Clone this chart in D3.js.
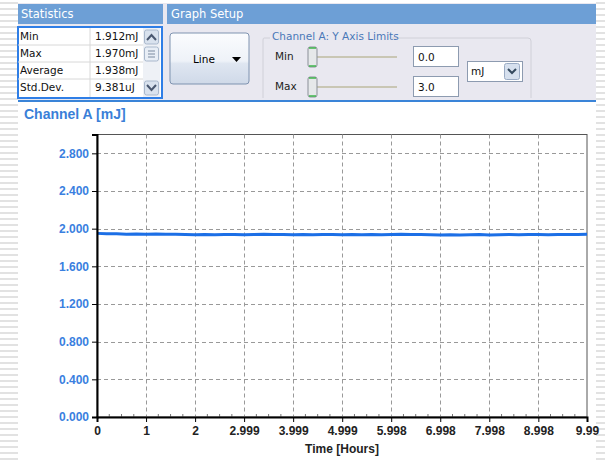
<!DOCTYPE html>
<html>
<head>
<meta charset="utf-8">
<title>Channel A</title>
<script src="https://cdn.jsdelivr.net/npm/d3@7"></script>
<style>
body { margin:0; background:#fff; }
svg text { font-family: "Liberation Sans", Arial, sans-serif; }
.ui { font-family: "DejaVu Sans", Tahoma, sans-serif; font-size:10.5px; }
</style>
</head>
<body>
<svg id="chart" width="605" height="463"></svg>
<script>
// statistics table
var statNames = ["Min", "Max", "Average", "Std.Dev."];
var statValues = ["1.912mJ", "1.970mJ", "1.938mJ", "9.381uJ"];

// axis ticks
var xTicks = [0, 1, 2, 2.999, 3.999, 4.999, 5.998, 6.998, 7.998, 8.998, 9.99];
var xTickLabels = ["0", "1", "2", "2.999", "3.999", "4.999", "5.998", "6.998", "7.998", "8.998", "9.99"];
var yTicks = [0, 0.4, 0.8, 1.2, 1.6, 2.0, 2.4, 2.8];

// series (hours, mJ)
var times = [0, 0.2, 0.4, 0.6, 0.8, 1.0, 1.2, 1.4, 1.6, 1.8, 2.0, 2.2, 2.4, 2.6, 2.8, 3.0, 3.2,
  3.4, 3.6, 3.8, 4.0, 4.2, 4.4, 4.6, 4.8, 5.0, 5.2, 5.4, 5.6, 5.8, 6.0, 6.2, 6.4, 6.6, 6.8,
  7.0, 7.2, 7.4, 7.6, 7.8, 8.0, 8.2, 8.4, 8.6, 8.8, 9.0, 9.2, 9.4, 9.6, 9.8, 9.99];
var energy = [1.950, 1.945, 1.947, 1.942, 1.944, 1.941, 1.943, 1.940, 1.941, 1.938, 1.936, 1.938,
  1.935, 1.937, 1.939, 1.936, 1.938, 1.940, 1.937, 1.939, 1.936, 1.938, 1.935, 1.937, 1.939,
  1.936, 1.938, 1.935, 1.937, 1.936, 1.938, 1.940, 1.937, 1.939, 1.936, 1.934, 1.936, 1.933,
  1.935, 1.937, 1.934, 1.936, 1.938, 1.935, 1.937, 1.939, 1.936, 1.938, 1.937, 1.939, 1.940];

var svg = d3.select("#chart");

// striped page edges
var defs = svg.append("defs");
var pat = defs.append("pattern").attr("id", "stripes").attr("patternUnits", "userSpaceOnUse")
  .attr("width", 10).attr("height", 6);
pat.append("rect").attr("width", 10).attr("height", 6).attr("fill", "#fff");
pat.append("rect").attr("y", 2).attr("width", 10).attr("height", 2).attr("fill", "#e2e2e2");
svg.append("rect").attr("x", 0).attr("y", 0).attr("width", 18).attr("height", 463).attr("fill", "url(#stripes)");
svg.append("rect").attr("x", 596).attr("y", 0).attr("width", 9).attr("height", 463).attr("fill", "url(#stripes)");

var grad = defs.append("linearGradient").attr("id", "btn").attr("x1", 0).attr("y1", 0).attr("x2", 0).attr("y2", 1);
grad.append("stop").attr("offset", "0%").attr("stop-color", "#fbfcfe");
grad.append("stop").attr("offset", "55%").attr("stop-color", "#eef2f8");
grad.append("stop").attr("offset", "60%").attr("stop-color", "#dfe6f1");
grad.append("stop").attr("offset", "100%").attr("stop-color", "#cfd9e8");

// top panel
svg.append("rect").attr("x", 18).attr("y", 3).attr("width", 578).attr("height", 98).attr("fill", "#e9e8f0");
svg.append("rect").attr("x", 18).attr("y", 4).attr("width", 145).attr("height", 20).attr("fill", "#6d9fd6");
svg.append("rect").attr("x", 167).attr("y", 4).attr("width", 429).attr("height", 20).attr("fill", "#6d9fd6");
svg.append("text").attr("class", "ui").attr("x", 21).attr("y", 18).attr("fill", "#fff").style("font-size", "11.5px").text("Statistics");
svg.append("text").attr("class", "ui").attr("x", 171).attr("y", 18).attr("fill", "#fff").style("font-size", "11.5px").text("Graph Setup");

// statistics table
var tbl = svg.append("g");
tbl.append("rect").attr("x", 18).attr("y", 27).attr("width", 144).attr("height", 71)
  .attr("fill", "#fff").attr("stroke", "#2f7ee6").attr("stroke-width", 2);
statNames.forEach(function(n, i) {
  var y0 = 28 + i * 17;
  if (i > 0) tbl.append("line").attr("x1", 18).attr("x2", 143).attr("y1", y0).attr("y2", y0).attr("stroke", "#d8d8d8");
  tbl.append("text").attr("class", "ui").attr("x", 20).attr("y", y0 + 12).attr("fill", "#111").text(n);
  tbl.append("text").attr("class", "ui").attr("x", 95).attr("y", y0 + 12).attr("fill", "#111").text(statValues[i]);
});
tbl.append("line").attr("x1", 90).attr("x2", 90).attr("y1", 28).attr("y2", 97).attr("stroke", "#d8d8d8");
tbl.append("rect").attr("x", 143).attr("y", 28).attr("width", 17).attr("height", 69).attr("fill", "#eef1f6");
[[30, "M147,40 L151.5,35 L156,40"], [81, "M147,85 L151.5,90 L156,85"]].forEach(function(b) {
  tbl.append("rect").attr("x", 144.5).attr("y", b[0]).attr("width", 14).attr("height", 14).attr("rx", 2)
    .attr("fill", "#d9e2ee").attr("stroke", "#a9b8cc");
  tbl.append("path").attr("d", b[1]).attr("fill", "none").attr("stroke", "#4a5870").attr("stroke-width", 2);
});
tbl.append("rect").attr("x", 144.5).attr("y", 47).attr("width", 14).attr("height", 14).attr("rx", 2)
  .attr("fill", "#e8eef6").attr("stroke", "#a9b8cc");
[51, 54, 57].forEach(function(y) {
  tbl.append("line").attr("x1", 148).attr("x2", 155).attr("y1", y).attr("y2", y).attr("stroke", "#7a8aa0");
});

// line button
svg.append("rect").attr("x", 170).attr("y", 33).attr("width", 79).attr("height", 51).attr("rx", 3)
  .attr("fill", "url(#btn)").attr("stroke", "#7f93b0");
svg.append("text").attr("class", "ui").attr("x", 193).attr("y", 63).attr("fill", "#000").text("Line");
svg.append("path").attr("d", "M232,57 L241,57 L236.5,62 Z").attr("fill", "#000");

// axis limits group box
svg.append("path").attr("d", "M270,38 L264,38 Q263,38 263,40 L263,98 M392,38 L528,38 Q531,38 531,41 L531,98")
  .attr("fill", "none").attr("stroke", "#d0d0d8");
svg.append("text").attr("class", "ui").attr("x", 272).attr("y", 40).attr("fill", "#4a78b8").text("Channel A: Y Axis Limits");
[["Min", 47, "0.0"], ["Max", 77, "3.0"]].forEach(function(r) {
  var y0 = r[1];
  svg.append("text").attr("class", "ui").attr("x", 275).attr("y", y0 + 13).attr("fill", "#222").text(r[0]);
  svg.append("line").attr("x1", 312).attr("x2", 397).attr("y1", y0 + 10).attr("y2", y0 + 10).attr("stroke", "#c9c6b4").attr("stroke-width", 2);
  svg.append("rect").attr("x", 308).attr("y", y0).attr("width", 9).attr("height", 20).attr("rx", 2)
    .attr("fill", "#e6e8ea").attr("stroke", "#8a8f98");
  svg.append("line").attr("x1", 309).attr("x2", 316).attr("y1", y0 + 1).attr("y2", y0 + 1).attr("stroke", "#3cb44a").attr("stroke-width", 1.5);
  svg.append("line").attr("x1", 309).attr("x2", 316).attr("y1", y0 + 19).attr("y2", y0 + 19).attr("stroke", "#3cb44a").attr("stroke-width", 1.5);
  svg.append("rect").attr("x", 413.5).attr("y", y0 - 0.5).attr("width", 45).attr("height", 20)
    .attr("fill", "#fff").attr("stroke", "#8d9bb0");
  svg.append("text").attr("class", "ui").attr("x", 418).attr("y", y0 + 14).attr("fill", "#111").text(r[2]);
});
svg.append("rect").attr("x", 467.5).attr("y", 61.5).attr("width", 55).attr("height", 20)
  .attr("fill", "#fff").attr("stroke", "#8d9bb0");
svg.append("text").attr("class", "ui").attr("x", 471).attr("y", 75).attr("fill", "#111").text("mJ");
svg.append("rect").attr("x", 504.5).attr("y", 63.5).attr("width", 15).attr("height", 16).attr("rx", 2)
  .attr("fill", "#d6e0ee").attr("stroke", "#9aabc4");
svg.append("path").attr("d", "M508,69 L512,73 L516,69").attr("fill", "none").attr("stroke", "#34495e").attr("stroke-width", 2);

svg.append("line").attr("x1", 18).attr("x2", 596).attr("y1", 101).attr("y2", 101).attr("stroke", "#3a84d8").attr("stroke-width", 2);

// chart title
svg.append("text").attr("x", 24).attr("y", 119).attr("fill", "#3a7fd8")
  .style("font-size", "14px").style("font-weight", "bold").text("Channel A [mJ]");

// plot
var x = d3.scaleLinear().domain([0, 9.99]).range([97, 587]);
var y = d3.scaleLinear().domain([0, 3]).range([417, 134.5]);

var g = svg.append("g");
g.append("rect").attr("x", x(0)).attr("y", y(3)).attr("width", x(9.99) - x(0)).attr("height", y(0) - y(3))
  .attr("fill", "#fff").attr("stroke", "#555").attr("stroke-width", 1);

g.selectAll(".vgrid").data(xTicks.slice(1, -1)).enter().append("line")
  .attr("x1", function(d) { return Math.round(x(d)) + 0.5; }).attr("x2", function(d) { return Math.round(x(d)) + 0.5; })
  .attr("y1", y(3)).attr("y2", y(0))
  .attr("stroke", "#999").attr("stroke-dasharray", "4,3");
g.selectAll(".hgrid").data(yTicks.slice(1)).enter().append("line")
  .attr("x1", x(0)).attr("x2", x(9.99))
  .attr("y1", function(d) { return Math.round(y(d)) + 0.5; }).attr("y2", function(d) { return Math.round(y(d)) + 0.5; })
  .attr("stroke", "#999").attr("stroke-dasharray", "4,3");

// minor ticks on x axis
var minor = [];
xTicks.slice(0, -1).forEach(function(d, i) {
  var step = (xTicks[i + 1] - d) / 4;
  minor.push(d + step, d + 2 * step, d + 3 * step);
});
g.selectAll(".minor").data(minor).enter().append("line")
  .attr("x1", function(d) { return x(d); }).attr("x2", function(d) { return x(d); })
  .attr("y1", y(0)).attr("y2", y(0) - 3).attr("stroke", "#777");

// series
var line = d3.line().x(function(d, i) { return x(times[i]); }).y(function(d) { return y(d); });
g.append("path").datum(energy).attr("d", line).attr("fill", "none")
  .attr("stroke", "#1c6fe6").attr("stroke-width", 3).attr("stroke-linejoin", "round");

// axes
var xAxis = d3.axisBottom(x).tickValues(xTicks).tickFormat(function(d, i) { return xTickLabels[i]; })
  .tickSize(5).tickPadding(4);
var gx = svg.append("g").attr("transform", "translate(0," + y(0) + ")").call(xAxis);
gx.select(".domain").attr("stroke", "#000").attr("stroke-width", 2);
gx.selectAll(".tick line").attr("stroke", "#000");
gx.selectAll("text").attr("fill", "#222").style("font-size", "12px").style("font-weight", "bold").style("font-family", "Liberation Sans, Arial, sans-serif");

var yAxis = d3.axisLeft(y).tickValues(yTicks).tickFormat(d3.format(".3f")).tickSize(5).tickPadding(3);
var gy = svg.append("g").attr("transform", "translate(" + x(0) + ",0)").call(yAxis);
gy.select(".domain").attr("stroke", "#000").attr("stroke-width", 2);
gy.selectAll(".tick line").attr("stroke", "#000");
gy.selectAll("text").attr("fill", "#3a7fe0").style("font-size", "12px").style("font-weight", "bold").style("font-family", "Liberation Sans, Arial, sans-serif");

svg.append("text").attr("x", 342).attr("y", 453).attr("text-anchor", "middle").attr("fill", "#222")
  .style("font-size", "12px").style("font-weight", "bold").text("Time [Hours]");
</script>
</body>
</html>
